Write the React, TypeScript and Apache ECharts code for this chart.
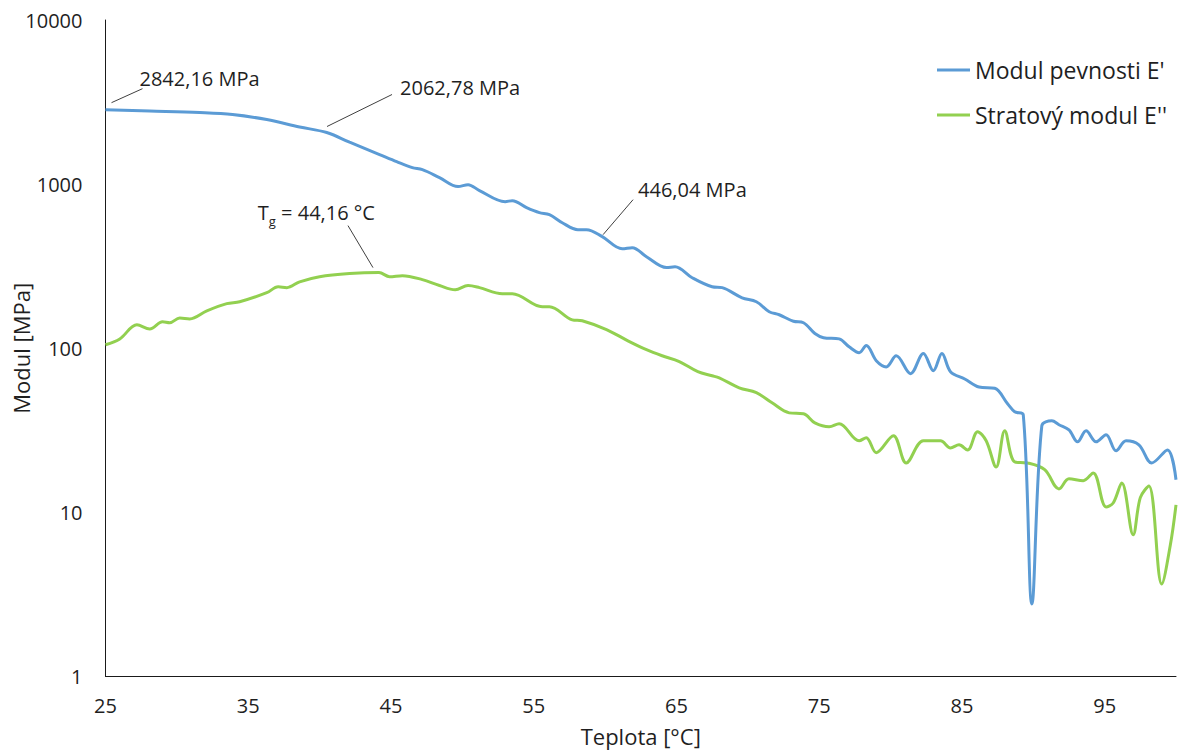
import React, { useEffect, useRef } from "react";
import * as echarts from "echarts";

const tempE1 = [25, 28.1, 31.6, 33.9, 36.3, 38.6, 40.5, 42.1, 44.2, 45.4, 46.5, 47.2, 48.4, 49.7, 50.4, 51.2, 53.0, 53.5, 54.5, 55.4, 56.1, 57.0, 58.1, 58.7, 59.8, 61.2, 61.9, 62.9, 64.3, 64.9, 66.1, 67.5, 68.2, 69.6, 70.6, 71.5, 72.2, 73.2, 73.9, 74.7, 75.3, 76.4, 77.1, 77.8, 78.3, 79.0, 79.7, 80.4, 81.4, 82.3, 83.0, 83.6, 84.2, 85.2, 86.2, 87.3, 88.2, 88.7, 89.3, 89.9, 90.6, 91.3, 91.8, 92.5, 93.1, 93.7, 94.4, 95.1, 95.8, 96.5, 97.4, 98.3, 99.4, 100];
const valE1 = [2842, 2790, 2729, 2655, 2473, 2230, 2062, 1800, 1514, 1371, 1261, 1225, 1096, 966, 993, 913, 782, 793, 719, 670, 652, 582, 528, 528, 479, 404, 410, 361, 310, 314, 269, 237, 234, 203, 192, 167, 160, 146, 143, 123, 116, 114, 102, 94, 104, 84, 77, 90, 70, 93, 73, 93, 72, 65, 58, 57, 45.9, 41, 39.3, 2.77, 33.7, 36.1, 34.2, 31.8, 26.9, 31.4, 26.9, 29.7, 23.7, 27.3, 25.8, 20.0, 24.0, 15.8];

const tempE2 = [25, 26.0, 27.2, 28.1, 29.0, 29.5, 30.2, 30.9, 32.1, 33.5, 34.4, 36.3, 37.1, 37.7, 38.6, 40.0, 42.1, 44.16, 44.9, 45.8, 47.2, 48.4, 49.5, 50.4, 51.2, 52.8, 53.5, 55.6, 56.1, 57.7, 58.4, 60.1, 61.6, 62.9, 64.0, 65.2, 66.5, 67.5, 68.0, 69.4, 70.6, 71.7, 72.9, 73.9, 74.7, 75.7, 76.4, 77.8, 78.3, 79.0, 80.2, 81.1, 82.3, 83.5, 84.2, 84.8, 85.4, 86.1, 86.7, 87.4, 88.0, 88.7, 89.6, 90.8, 91.8, 92.5, 93.5, 94.2, 95.1, 95.6, 96.2, 97.0, 97.5, 98.1, 99.0, 99.6, 100];
const valE2 = [105, 114, 139, 131, 145, 143, 153, 151, 169, 187, 192, 218, 237, 234, 254, 273, 285, 289, 273, 277, 262, 241, 227, 241, 234, 215, 215, 179, 179, 149, 147, 130, 111, 98, 90, 83, 72, 68, 66, 57.4, 53.6, 46.5, 40.4, 39.9, 35.1, 33.2, 34.7, 27.3, 28.5, 23.1, 29.3, 20.0, 27.3, 27.3, 24.7, 25.8, 24.0, 31.0, 27.3, 18.9, 31.4, 20.3, 20.0, 18.2, 13.9, 16.0, 15.6, 17.4, 10.8, 11.4, 15.1, 7.3, 12.3, 14.5, 3.66, 6.3, 11.1];

const xTickLabels = [25, 35, 45, 55, 65, 75, 85, 95];
const yTickLabels = [1, 10, 100, 1000, 10000];
const seriesNames = ["Modul pevnosti E'", "Stratový modul E''"];

// annotation anchors in data coordinates
const annotations = [
  { t: 25, v: 2842.16, text: "2842,16 MPa", line: [6, -7, 37, -21], textOff: [34, -31], align: "left" },
  { t: 40.52, v: 2062.78, text: "2062,78 MPa", line: [0, -6, 65, -38], textOff: [73, -45], align: "left" },
  { t: 60.0, v: 446.04, text: "446,04 MPa", line: [-2, -7, 28, -42], textOff: [33, -52], align: "left" },
];
const tgAnchor = { t: 44.16, v: 289, label: "44,16 °C" };

const FONT = "'Open Sans', Lato, sans-serif";
const TXT = "#1f1f1f";

export default function App() {
  const ref = useRef<HTMLDivElement>(null);
  useEffect(() => {
    document.body.style.margin = "0";
    const chart = echarts.init(ref.current!, null, { renderer: "svg" });
    const option: any = {
      animation: false,
      backgroundColor: "#ffffff",
      textStyle: { fontFamily: FONT },
      grid: { left: 105.5, top: 20, right: 5, bottom: 74.5, containLabel: false, outerBoundsMode: "none" },
      legend: {
        orient: "vertical",
        left: 932,
        top: 53,
        itemWidth: 33,
        itemHeight: 3,
        itemGap: 21,
        icon: "rect",
        textStyle: { fontSize: 23, color: TXT, fontFamily: FONT, lineHeight: 24 },
        data: seriesNames,
      },
      xAxis: {
        type: "value",
        min: 25,
        max: 100,
        interval: 5,
        name: "Teplota [°C]",
        nameLocation: "middle",
        nameGap: 48,
        nameMoveOverlap: false,
        nameTextStyle: { fontSize: 22, lineHeight: 22, color: TXT, fontFamily: FONT },
        axisLine: { show: true, onZero: false, lineStyle: { color: "#1a1a1a", width: 1 } },
        axisTick: { show: false },
        splitLine: { show: false },
        axisLabel: {
          margin: 19,
          fontSize: 20,
          lineHeight: 20,
          color: TXT,
          fontFamily: FONT,
          showMaxLabel: false,
          formatter: (v: number) => (xTickLabels.includes(Math.round(v * 1000) / 1000) ? String(v) : ""),
        },
      },
      yAxis: {
        type: "log",
        logBase: 10,
        min: 1,
        max: 10000,
        name: "Modul [MPa]",
        nameLocation: "middle",
        nameGap: 74,
        nameMoveOverlap: false,
        nameTextStyle: { fontSize: 22, lineHeight: 22, color: TXT, fontFamily: FONT },
        axisLine: { show: true, lineStyle: { color: "#1a1a1a", width: 1 } },
        axisTick: { show: false },
        splitLine: { show: false },
        axisLabel: {
          margin: 23,
          fontSize: 20,
          lineHeight: 20,
          color: TXT,
          fontFamily: FONT,
          formatter: (v: number) => (yTickLabels.includes(Math.round(v)) ? String(Math.round(v)) : ""),
        },
      },
      series: [
        {
          name: seriesNames[0],
          type: "line",
          data: tempE1.map((t, i) => [t, valE1[i]]),
          symbol: "none",
          smooth: 0.35,
          lineStyle: { color: "#5B9BD5", width: 3 },
          itemStyle: { color: "#5B9BD5" },
          z: 3,
        },
        {
          name: seriesNames[1],
          type: "line",
          data: tempE2.map((t, i) => [t, valE2[i]]),
          symbol: "none",
          smooth: 0.35,
          lineStyle: { color: "#92D050", width: 3 },
          itemStyle: { color: "#92D050" },
          z: 2,
        },
      ],
    };
    chart.setOption(option);

    const graphics: any[] = [];
    annotations.forEach((a) => {
      const p = chart.convertToPixel({ xAxisIndex: 0, yAxisIndex: 0 }, [a.t, a.v]) as number[];
      graphics.push({
        type: "line",
        shape: { x1: p[0] + a.line[0], y1: p[1] + a.line[1], x2: p[0] + a.line[2], y2: p[1] + a.line[3] },
        style: { stroke: "#404040", lineWidth: 1 },
        z: 10,
      });
      graphics.push({
        type: "text",
        x: p[0] + a.textOff[0],
        y: p[1] + a.textOff[1],
        style: { text: a.text, fill: TXT, font: `20px ${FONT}`, textAlign: a.align, textVerticalAlign: "middle" },
        z: 10,
      });
    });
    const tp = chart.convertToPixel({ xAxisIndex: 0, yAxisIndex: 0 }, [tgAnchor.t, tgAnchor.v]) as number[];
    graphics.push({
      type: "line",
      shape: { x1: tp[0] - 6, y1: tp[1] - 5, x2: tp[0] - 31, y2: tp[1] - 47 },
      style: { stroke: "#404040", lineWidth: 1 },
      z: 10,
    });
    graphics.push({
      type: "text",
      x: tp[0] - 4,
      y: tp[1] - 60,
      style: {
        text: `{a|T}{s|g}{a| = ${tgAnchor.label}}`,
        textAlign: "right",
        textVerticalAlign: "middle",
        rich: {
          a: { fontSize: 20, fontFamily: FONT, fill: TXT, color: TXT, lineHeight: 30, verticalAlign: "middle" },
          s: { fontSize: 13, fontFamily: FONT, fill: TXT, color: TXT, lineHeight: 13, verticalAlign: "bottom" },
        },
      },
      z: 10,
    });
    chart.setOption({ graphic: graphics });

    return () => chart.dispose();
  }, []);
  return <div ref={ref} style={{ width: 1181, height: 751 }} />;
}
